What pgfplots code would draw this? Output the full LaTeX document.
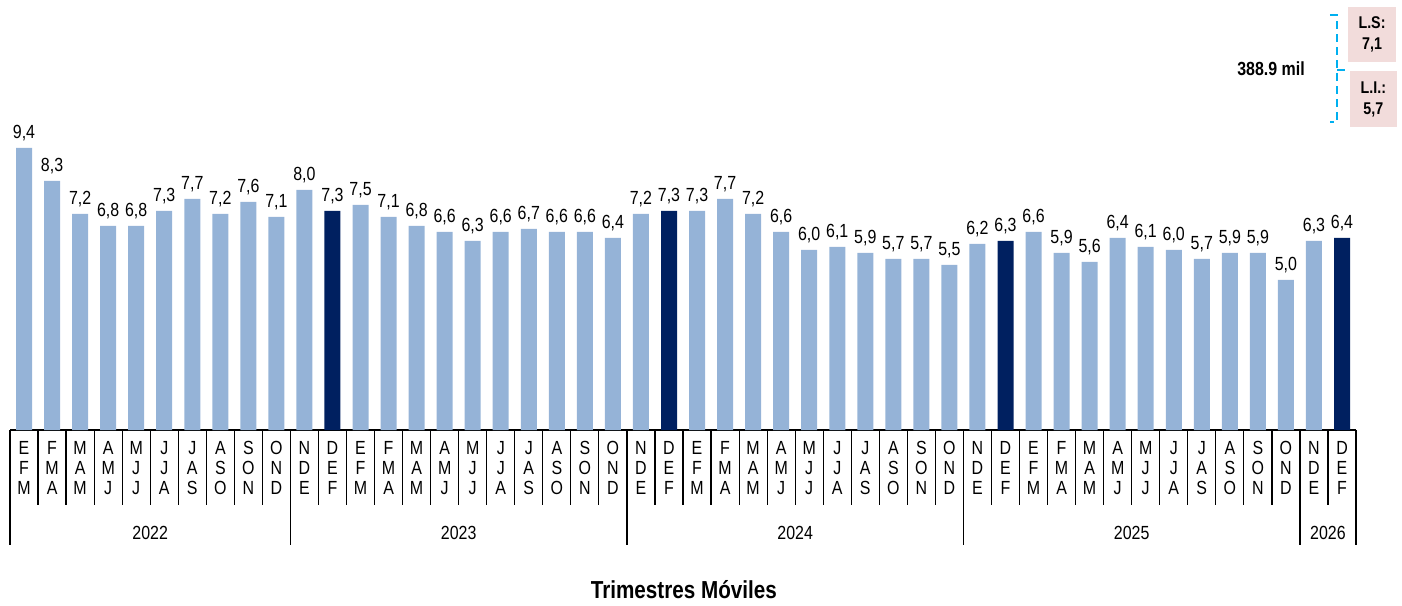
\documentclass[border=0pt]{standalone}
\usepackage{fontspec}
\setmainfont{Liberation Sans}[FakeStretch=0.84]
\usepackage{pgfplots}
\pgfplotsset{compat=1.18}
\usetikzlibrary{calc}

\definecolor{lightbar}{HTML}{95B3D7}
\definecolor{darkbar}{HTML}{002060}
\definecolor{limcyan}{HTML}{00B0F0}
\definecolor{limbox}{HTML}{F2DCDB}

\begin{document}
\begin{tikzpicture}
\begin{axis}[
  scale only axis,
  width=673pt, height=215pt,
  xmin=-0.5, xmax=47.5,
  ymin=0, ymax=14.333,
  clip=false,
  axis x line=bottom, axis y line=none,
  x axis line style={-, black, line width=0.7pt},
  ytick=\empty,
  major tick length=0pt,
  xtick={0,...,47},
  xticklabels={{E\\F\\M},{F\\M\\A},{M\\A\\M},{A\\M\\J},{M\\J\\J},{J\\J\\A},{J\\A\\S},{A\\S\\O},{S\\O\\N},{O\\N\\D},
    {N\\D\\E},{D\\E\\F},{E\\F\\M},{F\\M\\A},{M\\A\\M},{A\\M\\J},{M\\J\\J},{J\\J\\A},{J\\A\\S},{A\\S\\O},{S\\O\\N},{O\\N\\D},
    {N\\D\\E},{D\\E\\F},{E\\F\\M},{F\\M\\A},{M\\A\\M},{A\\M\\J},{M\\J\\J},{J\\J\\A},{J\\A\\S},{A\\S\\O},{S\\O\\N},{O\\N\\D},
    {N\\D\\E},{D\\E\\F},{E\\F\\M},{F\\M\\A},{M\\A\\M},{A\\M\\J},{M\\J\\J},{J\\J\\A},{J\\A\\S},{A\\S\\O},{S\\O\\N},{O\\N\\D},
    {N\\D\\E},{D\\E\\F}},
  xticklabel style={align=center, font=\fontsize{9.5}{10}\selectfont, anchor=north, yshift=-2pt},
  ybar, bar width=8pt,
  nodes near coords,
  nodes near coords style={font=\fontsize{9.5}{10}\selectfont, black},
  every node near coord/.append style={/pgf/number format/.cd, fixed, fixed zerofill, precision=1, use comma, assume math mode=true},
]
% light bars
\addplot[fill=lightbar, draw=none, bar shift=0pt] coordinates {
  (0,9.4) (1,8.3) (2,7.2) (3,6.8) (4,6.8) (5,7.3) (6,7.7) (7,7.2) (8,7.6) (9,7.1)
  (10,8.0) (12,7.5) (13,7.1) (14,6.8) (15,6.6) (16,6.3) (17,6.6) (18,6.7) (19,6.6) (20,6.6) (21,6.4)
  (22,7.2) (24,7.3) (25,7.7) (26,7.2) (27,6.6) (28,6.0) (29,6.1) (30,5.9) (31,5.7) (32,5.7) (33,5.5)
  (34,6.2) (36,6.6) (37,5.9) (38,5.6) (39,6.4) (40,6.1) (41,6.0) (42,5.7) (43,5.9) (44,5.9) (45,5.0)
  (46,6.3)
};
% DEF bars
\addplot[fill=darkbar, draw=none, bar shift=0pt] coordinates {
  (11,7.3) (23,7.3) (35,6.3) (47,6.4)
};

% category grid
\pgfplotsinvokeforeach{0,...,48}{
  \draw[line width=0.6pt] (axis cs:#1-0.5,0) -- (axis cs:#1-0.5,-2.5);
}
\pgfplotsinvokeforeach{0,10,22,34,46,48}{
  \draw[line width=0.6pt] (axis cs:#1-0.5,-2.5) -- (axis cs:#1-0.5,-3.833);
}
\node[font=\fontsize{9.5}{10}\selectfont] at (axis cs:4.5,-3.43) {2022};
\node[font=\fontsize{9.5}{10}\selectfont] at (axis cs:15.5,-3.43) {2023};
\node[font=\fontsize{9.5}{10}\selectfont] at (axis cs:27.5,-3.43) {2024};
\node[font=\fontsize{9.5}{10}\selectfont] at (axis cs:39.5,-3.43) {2025};
\node[font=\fontsize{9.5}{10}\selectfont] at (axis cs:46.5,-3.43) {2026};
\node[font=\fontsize{12.3}{14}\selectfont\bfseries] at (axis cs:23.53,-5.33) {Trimestres Móviles};

% limits annotation
\node[font=\fontsize{9.5}{11}\selectfont\bfseries] at (axis cs:44.47,12.03) {388.9 mil};
\draw[limcyan, line width=1.3pt, dash pattern=on 4pt off 2.5pt]
  (axis cs:46.57,13.83) -- (axis cs:46.82,13.83) -- (axis cs:46.82,10.27) -- (axis cs:46.57,10.27);
\draw[limcyan, line width=1.3pt] (axis cs:46.82,12.0) -- (axis cs:47.11,12.0);
\fill[limbox] (axis cs:47.21,14.1) rectangle (axis cs:48.93,12.27);
\fill[limbox] (axis cs:47.29,11.97) rectangle (axis cs:48.96,10.1);
\node[align=center, font=\fontsize{8.5}{10.5}\selectfont\bfseries] at (axis cs:48.07,13.18) {L.S:\\7,1};
\node[align=center, font=\fontsize{8.5}{10.5}\selectfont\bfseries] at (axis cs:48.12,11.03) {L.I.:\\5,7};

% page extent
\path (axis cs:-0.857,-5.767) rectangle (axis cs:49.14,14.333);
\end{axis}
\end{tikzpicture}
\end{document}
